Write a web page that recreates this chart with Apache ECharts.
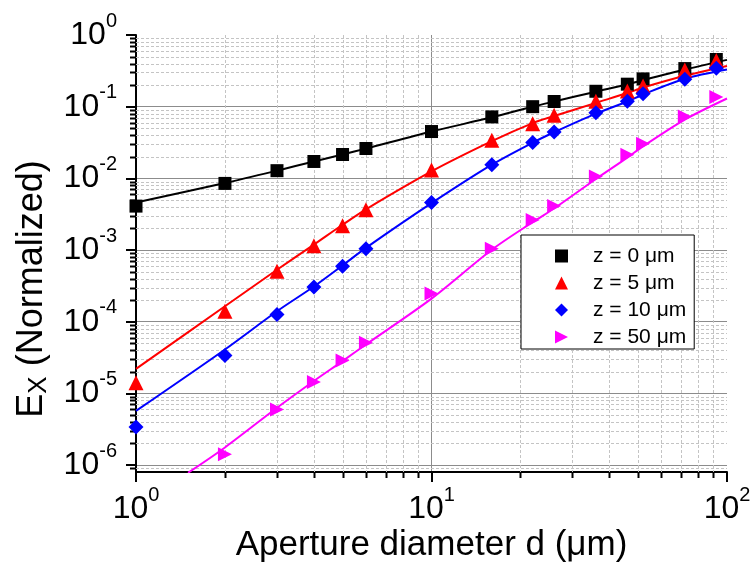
<!DOCTYPE html>
<html>
<head>
<meta charset="utf-8">
<script src="https://cdn.jsdelivr.net/npm/echarts@6/dist/echarts.min.js"></script>
<style>
  html, body { margin: 0; padding: 0; background: #fff; }
  #chart { width: 752px; height: 563px; }
</style>
</head>
<body>
<div id="chart"></div>
<script>
const FONT = '"Liberation Sans", Arial, sans-serif'

// measured points, aperture diameter d (um)
const diameters = [1, 2, 3, 4, 5, 6, 10, 16, 22, 26, 36, 46, 52, 72, 92]
const ptZ0 = [4.1e-3, 8.5e-3, 1.28e-2, 1.72e-2, 2.15e-2, 2.61e-2, 4.5e-2, 7.2e-2, 0.1, 0.118, 0.164, 0.206, 0.244, 0.34, 0.455]
const ptZ5 = [1.41e-5, 1.4e-4, 5.06e-4, 1.15e-3, 2.19e-3, 3.66e-3, 1.31e-2, 3.4e-2, 5.76e-2, 7.6e-2, 0.119, 0.165, 0.195, 0.325, 0.44]
const ptZ10 = [3.4e-6, 3.38e-5, 1.26e-4, 3.06e-4, 5.93e-4, 1.04e-3, 4.6e-3, 1.55e-2, 3.16e-2, 4.45e-2, 8.2e-2, 0.119, 0.152, 0.242, 0.345]
const ptZ50 = [null, 1.41e-6, 5.98e-6, 1.44e-5, 2.88e-5, 5.08e-5, 2.47e-4, 1.04e-3, 2.62e-3, 4.1e-3, 1.06e-2, 2.13e-2, 3.03e-2, 7.3e-2, 0.136]

// fitted curves
const fitX = [1, 2, 3, 4, 5, 6, 10, 16, 22, 26, 36, 46, 52, 72, 100]
const fitZ0 = [4.6e-3, 8.6e-3, 1.28e-2, 1.72e-2, 2.15e-2, 2.6e-2, 4.5e-2, 7.1e-2, 0.1, 0.118, 0.162, 0.205, 0.235, 0.33, 0.45]
const fitZ5 = [2.2e-5, 1.64e-4, 5.3e-4, 1.19e-3, 2.25e-3, 3.7e-3, 1.25e-2, 3.3e-2, 5.9e-2, 7.4e-2, 0.113, 0.155, 0.185, 0.27, 0.37]
const fitZ10 = [5.7e-6, 4.1e-5, 1.4e-4, 3.1e-4, 6.1e-4, 1.07e-3, 4.5e-3, 1.55e-2, 3.15e-2, 4.4e-2, 8.0e-2, 0.118, 0.148, 0.245, 0.33]
const fitX50 = [1.5, 2, 3, 4, 5, 6, 10, 16, 22, 26, 36, 46, 52, 72, 100]
const fitZ50 = [7.8e-7, 1.76e-6, 6.3e-6, 1.49e-5, 2.82e-5, 4.81e-5, 2.1e-4, 1.01e-3, 2.45e-3, 3.8e-3, 9.8e-3, 1.95e-2, 2.8e-2, 6.6e-2, 0.13]

const seriesNames = ['z = 0 \u03bcm', 'z = 5 \u03bcm', 'z = 10 \u03bcm', 'z = 50 \u03bcm']
const seriesColors = ['#000000', '#ff0000', '#0000ff', '#ff00ff']

// axis ranges and minor tick positions
const xRange = [1, 100]
const yRange = [8e-7, 1]
const minorMantissa = [2, 3, 4, 5, 6, 7, 8, 9]
const xDecades = [1, 10]
const yDecades = [1e-7, 1e-6, 1e-5, 1e-4, 1e-3, 1e-2, 1e-1]

const pairs = (xs, ys) => xs.map((x, i) => [x, ys[i]]).filter(p => p[1] != null)

const minorData = []
xDecades.forEach(d => minorMantissa.forEach(m => minorData.push([m * d, 1e-3, 0])))
yDecades.forEach(d => minorMantissa.forEach(m => {
  const v = m * d
  if (v > yRange[0] && v < yRange[1]) minorData.push([10, v, 1])
}))

const crisp = v => Math.round(v) + 0.5

function renderMinor(params, api) {
  const cs = params.coordSys
  const bottom = cs.y + cs.height
  const gridStyle = { stroke: '#c4c4c4', lineWidth: 1, lineDash: [3, 2] }
  const tickStyle = { stroke: '#000', lineWidth: 2 }
  if (api.value(2) === 0) {
    const px = crisp(api.coord([api.value(0), 1e-3])[0])
    return {
      type: 'group',
      children: [
        { type: 'line', shape: { x1: px, y1: cs.y, x2: px, y2: bottom }, style: gridStyle },
        { type: 'line', shape: { x1: px, y1: bottom, x2: px, y2: bottom + 6 }, style: tickStyle }
      ]
    }
  }
  const py = crisp(api.coord([10, api.value(1)])[1])
  return {
    type: 'group',
    children: [
      { type: 'line', shape: { x1: cs.x, y1: py, x2: cs.x + cs.width, y2: py }, style: gridStyle },
      { type: 'line', shape: { x1: cs.x - 6, y1: py, x2: cs.x, y2: py }, style: tickStyle }
    ]
  }
}

const powLabel = v => '{b|10}{s|' + Math.round(Math.log10(v)) + '}'
const powRich = {
  b: { fontSize: 32, lineHeight: 32, fontFamily: FONT, color: '#000' },
  s: { fontSize: 20, lineHeight: 20, fontFamily: FONT, color: '#000', padding: [0, 0, 28, 0] }
}

const symbols = ['rect', 'triangle', 'diamond', 'path://M0,0L12,6L0,12Z']
const symbolSizes = [13, 15, 15, 14]
const pointSets = [ptZ0, ptZ5, ptZ10, ptZ50]
const fitSets = [pairs(fitX, fitZ0), pairs(fitX, fitZ5), pairs(fitX, fitZ10), pairs(fitX50, fitZ50)]

const series = [{
  type: 'custom',
  name: 'minor',
  coordinateSystem: 'cartesian2d',
  renderItem: renderMinor,
  data: minorData,
  encode: { x: 0, y: 1 },
  silent: true,
  clip: false,
  z: 1
}]
fitSets.forEach((d, i) => {
  series.push({
    type: 'line',
    name: seriesNames[i] + ' fit',
    data: d,
    smooth: 0.3,
    showSymbol: false,
    symbol: 'none',
    lineStyle: { color: seriesColors[i], width: 2 },
    silent: true,
    z: 2
  })
})
pointSets.forEach((d, i) => {
  series.push({
    type: 'scatter',
    name: seriesNames[i],
    data: pairs(diameters, d),
    symbol: symbols[i],
    symbolSize: symbolSizes[i],
    itemStyle: { color: seriesColors[i], opacity: 1 },
    z: 3 + i
  })
})

const option = {
  animation: false,
  backgroundColor: '#fff',
  grid: { left: 136, right: 25, top: 35, bottom: 91, outerBoundsMode: 'none', containLabel: false },
  legend: {
    data: seriesNames,
    orient: 'vertical',
    left: 521,
    top: 235,
    padding: [10, 8, 1, 34],
    itemGap: 5,
    itemWidth: 13,
    itemHeight: 13,
    borderColor: '#000',
    borderWidth: 1,
    borderRadius: 0,
    backgroundColor: '#fff',
    selectedMode: false,
    textStyle: { fontSize: 21, lineHeight: 22, fontFamily: FONT, color: '#000', padding: [0, 0, 0, 20] }
  },
  xAxis: {
    type: 'log',
    logBase: 10,
    min: xRange[0],
    max: xRange[1],
    name: 'Aperture diameter d (\u03bcm)',
    nameLocation: 'middle',
    nameGap: 56,
    nameMoveOverlap: false,
    nameTextStyle: { fontSize: 35, fontFamily: FONT, color: '#000' },
    axisLine: { lineStyle: { color: '#000', width: 2 } },
    axisTick: { length: 10, lineStyle: { color: '#000', width: 2 } },
    axisLabel: { margin: 21, formatter: powLabel, rich: powRich },
    splitLine: { show: true, showMinLine: false, showMaxLine: false, lineStyle: { color: '#8c8c8c', width: 1 } },
    minorTick: { show: false },
    minorSplitLine: { show: false }
  },
  yAxis: {
    type: 'log',
    logBase: 10,
    min: yRange[0],
    max: yRange[1],
    name: '{t|E}{sub|X}{t| (Normalized)}',
    nameLocation: 'middle',
    nameRotate: 90,
    nameGap: 86,
    nameMoveOverlap: false,
    nameTextStyle: {
      padding: [0, 71, 0, 0],
      rich: {
        t: { fontSize: 36, lineHeight: 36, fontFamily: FONT, color: '#000' },
        sub: { fontSize: 26, lineHeight: 26, fontFamily: FONT, color: '#000', padding: [14, 0, 0, 0] }
      }
    },
    axisLine: { lineStyle: { color: '#000', width: 2 } },
    axisTick: { length: 10, lineStyle: { color: '#000', width: 2 } },
    axisLabel: { margin: 19, showMinLabel: false, formatter: powLabel, rich: powRich },
    splitLine: { show: true, showMinLine: false, showMaxLine: false, lineStyle: { color: '#8c8c8c', width: 1 } },
    minorTick: { show: false },
    minorSplitLine: { show: false }
  },
  series: series
}

const myChart = echarts.init(document.getElementById('chart'))
myChart.setOption(option)
</script>
</body>
</html>
